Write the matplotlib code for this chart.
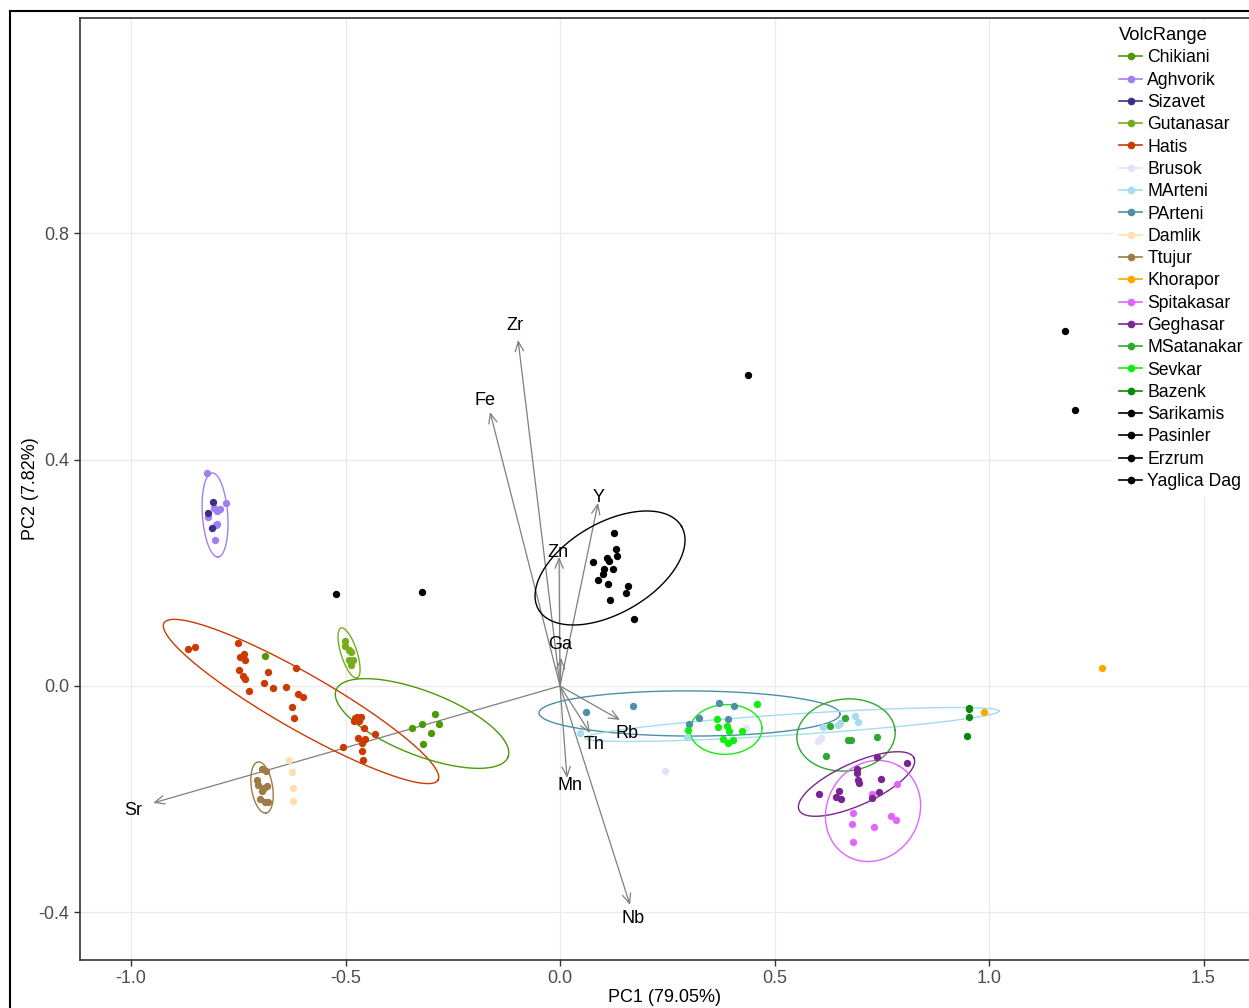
import numpy as np
import matplotlib.pyplot as plt
from matplotlib.lines import Line2D

plt.rcParams["font.family"] = ["Liberation Sans", "DejaVu Sans"]

# PCA scores per volcanic range (PC1, PC2)
groups = ["Chikiani", "Aghvorik", "Sizavet", "Gutanasar", "Hatis", "Brusok",
          "MArteni", "PArteni", "Damlik", "Ttujur", "Khorapor", "Spitakasar",
          "Geghasar", "MSatanakar", "Sevkar", "Bazenk", "Sarikamis",
          "Pasinler", "Erzrum", "Yaglica Dag"]

colors = ["#4C9A06", "#A27FF0", "#3E2E86", "#76AD1C", "#CC3A00", "#E4E2F7",
          "#A6DCEE", "#4C8FA6", "#FFDFB0", "#A07A45", "#FFA500", "#E066FF",
          "#7B2493", "#2EA82E", "#10EE10", "#0A880A", "#000000",
          "#000000", "#000000", "#000000"]

pc1 = {
    "Chikiani": [-0.6877, -0.3457, -0.3210, -0.2921, -0.2814, -0.3007, -0.3187],
    "Aghvorik": [-0.8236, -0.7786, -0.8065, -0.8002, -0.7925, -0.8198, -0.8019,
                 -0.7988, -0.8042],
    "Sizavet": [-0.8082, -0.8212, -0.8105],
    "Gutanasar": [-0.5012, -0.5012, -0.4911, -0.4879, -0.4918, -0.4818, -0.4879],
    "Hatis": [-0.8664, -0.8508, -0.7499, -0.7359, -0.7459, -0.7336, -0.7476,
              -0.7396, -0.7350, -0.6800, -0.6161, -0.7249, -0.6893, -0.6683,
              -0.6394, -0.6100, -0.5984, -0.6254, -0.6194, -0.5065, -0.4779,
              -0.4725, -0.4639, -0.4795, -0.4685, -0.4562, -0.4312, -0.4702,
              -0.4545, -0.4608, -0.4622, -0.4585],
    "Brusok": [0.2448, 0.4336, 0.6021, 0.6077],
    "MArteni": [0.0466, 0.2953, 0.6876, 0.6953, 0.6527, 0.6487, 0.6124],
    "PArteni": [0.0599, 0.1702, 0.3706, 0.4049, 0.3247, 0.3007, 0.3909],
    "Damlik": [-0.6310, -0.6254, -0.6217, -0.6217],
    "Ttujur": [-0.6953, -0.6860, -0.7070, -0.7047, -0.6837, -0.6893, -0.6953,
               -0.6993, -0.6876, -0.6800],
    "Khorapor": [0.9877, 1.2634],
    "Spitakasar": [0.7848, 0.7266, 0.6837, 0.6814, 0.7716, 0.7825, 0.7326, 0.6837],
    "Geghasar": [0.7396, 0.8096, 0.6930, 0.6930, 0.6953, 0.6977, 0.7476, 0.6044,
                 0.6503, 0.6434, 0.6550, 0.7443, 0.7280],
    "MSatanakar": [0.6643, 0.6294, 0.6706, 0.6790, 0.7382, 0.6207],
    "Sevkar": [0.4585, 0.3660, 0.3893, 0.3676, 0.3932, 0.4242, 0.2991, 0.3793,
               0.4026, 0.3909],
    "Bazenk": [0.9541, 0.9541, 0.9541, 0.9494],
    "Sarikamis": [0.1266, 0.1298, 0.1322, 0.0776, 0.1103, 0.1149, 0.1026, 0.0995,
                  0.1235, 0.0886, 0.1112, 0.1592, 0.1538, 0.1166, 0.1725],
    "Pasinler": [-0.5221, -0.3217],
    "Erzrum": [0.4382],
    "Yaglica Dag": [1.1772, 1.2005],
}

pc2 = {
    "Chikiani": [0.0525, -0.0742, -0.0672, -0.0500, -0.0677, -0.0825, -0.1030],
    "Aghvorik": [0.3759, 0.3229, 0.3141, 0.3098, 0.3123, 0.2992, 0.2846, 0.2858,
                 0.2580],
    "Sizavet": [0.3257, 0.3052, 0.2798],
    "Gutanasar": [0.0801, 0.0712, 0.0636, 0.0601, 0.0460, 0.0460, 0.0371],
    "Hatis": [0.0649, 0.0695, 0.0765, 0.0566, 0.0507, 0.0454, 0.0283, 0.0182,
              0.0129, 0.0253, 0.0318, -0.0088, 0.0048, -0.0041, -0.0023, -0.0147,
              -0.0194, -0.0366, -0.0566, -0.1078, -0.0571, -0.0553, -0.0553,
              -0.0619, -0.0613, -0.0737, -0.0843, -0.0914, -0.0942, -0.1013,
              -0.1149, -0.1303],
    "Brusok": [-0.1502, -0.0737, -0.0967, -0.0914],
    "MArteni": [-0.0825, -0.0896, -0.0530, -0.0631, -0.0649, -0.0689, -0.0719],
    "PArteni": [-0.0465, -0.0359, -0.0295, -0.0359, -0.0571, -0.0666, -0.0583],
    "Damlik": [-0.1308, -0.1525, -0.1803, -0.2038],
    "Ttujur": [-0.1472, -0.1497, -0.1661, -0.1755, -0.1767, -0.1808, -0.1856,
               -0.2002, -0.2045, -0.2055],
    "Khorapor": [-0.0465, 0.0318],
    "Spitakasar": [-0.1732, -0.1914, -0.2250, -0.2439, -0.2298, -0.2368, -0.2487,
                   -0.2762],
    "Geghasar": [-0.1250, -0.1366, -0.1467, -0.1543, -0.1661, -0.1720, -0.1644,
                 -0.1903, -0.1861, -0.1956, -0.2002, -0.1868, -0.1985],
    "MSatanakar": [-0.0571, -0.0707, -0.0949, -0.0949, -0.0896, -0.1237],
    "Sevkar": [-0.0323, -0.0589, -0.0702, -0.0725, -0.0790, -0.0790, -0.0778,
               -0.0942, -0.0954, -0.1013],
    "Bazenk": [-0.0384, -0.0412, -0.0553, -0.0878],
    "Sarikamis": [0.2699, 0.2416, 0.2303, 0.2186, 0.2257, 0.2215, 0.2063, 0.1974,
                  0.2068, 0.1873, 0.1803, 0.1773, 0.1649, 0.1520, 0.1179],
    "Pasinler": [0.1626, 0.1661],
    "Erzrum": [0.5497],
    "Yaglica Dag": [0.6274, 0.4878],
}

# group ellipses: major axis end points (PC1, PC2) and minor/major ratio
ellipse_groups = ["Aghvorik", "Hatis", "Gutanasar", "Chikiani", "Ttujur",
                  "Sarikamis", "PArteni", "MArteni", "Sevkar", "MSatanakar",
                  "Geghasar", "Spitakasar"]
ellipse_p1 = [(-0.8112, 0.3765), (-0.9231, 0.1113), (-0.5105, 0.1025),
              (-0.5221, -0.0071), (-0.7040, -0.1343), (-0.0501, 0.1350),
              (-0.0490, -0.0477), (0.0583, -0.0919), (0.3030, -0.0795),
              (0.5524, -0.0954), (0.5571, -0.2192), (0.6690, -0.3005)]
ellipse_p2 = [(-0.7972, 0.2280), (-0.2844, -0.1661), (-0.4732, 0.0141),
              (-0.1212, -0.1255), (-0.6853, -0.2245), (0.2832, 0.2821),
              (0.6527, -0.0495), (1.0233, -0.0442), (0.4709, -0.0742),
              (0.7809, -0.0778), (0.8252, -0.1273), (0.7902, -0.1414)]
ellipse_ratio = [0.30, 0.177, 0.305, 0.347, 0.41, 0.545, 0.15, 0.05, 0.69,
                 0.73, 0.333, 0.885]

# variable loadings
variables = ["Sr", "Zr", "Fe", "Y", "Zn", "Ga", "Th", "Rb", "Mn", "Nb"]
load_x = [-0.9487, -0.0979, -0.1632, 0.0886, -0.0023, 0.0023, 0.0699, 0.1399,
          0.0163, 0.1632]
load_y = [-0.2068, 0.6115, 0.4843, 0.3234, 0.2280, 0.0500, -0.0831, -0.0601,
          -0.1626, -0.3871]
label_x = [-0.9953, -0.1049, -0.1748, 0.0909, -0.0047, 0.0, 0.0793, 0.1562,
           0.0233, 0.1702]
label_y = [-0.2192, 0.6380, 0.5037, 0.3340, 0.2368, 0.0725, -0.1043, -0.0831,
           -0.1767, -0.4118]

W, H = 1249, 1008
fig = plt.figure(figsize=(W / 100, H / 100), dpi=100)
ax = fig.add_axes([80 / W, 48 / H, (W - 80) / W, 942 / H])
ax.set_xlim(-1.119, 1.606)
ax.set_ylim(-0.4843, 1.1806)

ax.set_xticks([-1.0, -0.5, 0.0, 0.5, 1.0, 1.5])
ax.set_yticks([-0.4, 0.0, 0.4, 0.8])
ax.set_xticklabels(["-1.0", "-0.5", "0.0", "0.5", "1.0", "1.5"])
ax.set_yticklabels(["-0.4", "0.0", "0.4", "0.8"])
ax.grid(True, color="#EBEBEB", lw=1.0, zorder=0)
ax.set_axisbelow(True)
ax.tick_params(colors="#333333", labelcolor="#4D4D4D", labelsize=13,
               length=4, width=1)
for side in ["left", "bottom", "top"]:
    ax.spines[side].set_color("#333333")
    ax.spines[side].set_linewidth(1.2)
ax.spines["right"].set_visible(False)
ax.set_xlabel("PC1 (79.05%)", fontsize=13, labelpad=0.8)
ax.set_ylabel("PC2 (7.82%)", fontsize=13, labelpad=-0.5)

col = dict(zip(groups, colors))

# loadings arrows
for vx, vy in zip(load_x, load_y):
    ax.annotate("", xy=(vx, vy), xytext=(0, 0),
                arrowprops=dict(arrowstyle="->,head_length=0.7,head_width=0.3",
                                color="#7F7F7F", lw=0.9,
                                shrinkA=0, shrinkB=0),
                zorder=2)

# points
for g in groups:
    ax.scatter(pc1[g], pc2[g], s=28, color=col[g], linewidths=0, zorder=3)

# ellipses, built in display space so the axes keep their proportions
fig.canvas.draw()
t = np.linspace(0, 2 * np.pi, 200)
to_disp = ax.transData
to_data = ax.transData.inverted()
for g, p1, p2, r in zip(ellipse_groups, ellipse_p1, ellipse_p2, ellipse_ratio):
    d1 = to_disp.transform(p1)
    d2 = to_disp.transform(p2)
    c = (d1 + d2) / 2
    a = np.hypot(*(d2 - d1)) / 2
    u = (d2 - d1) / (2 * a)
    v = np.array([-u[1], u[0]])
    b = a * r
    pts = c + np.outer(a * np.cos(t), u) + np.outer(b * np.sin(t), v)
    dpts = to_data.transform(pts)
    ax.plot(dpts[:, 0], dpts[:, 1], color=col[g], lw=1.0, zorder=2.5)

for name, lx, ly in zip(variables, label_x, label_y):
    ax.text(lx, ly, name, fontsize=13, ha="center", va="center",
            color="black", zorder=4)

handles = [Line2D([0], [0], color=col[g], marker="o", markersize=4.5, lw=1.2)
           for g in groups]
leg = fig.legend(handles, groups, title="VolcRange", loc="upper left",
                 bbox_to_anchor=(1113 / W, 1 - 21 / H), frameon=True,
                 fontsize=12.7, title_fontsize=13.2, handlelength=1.3,
                 handletextpad=0.3, labelspacing=0.30, borderpad=0.35,
                 alignment="left", borderaxespad=0)
leg._legend_handle_box.sep = 5
leg.get_frame().set_facecolor("white")
leg.get_frame().set_edgecolor("white")
leg.get_frame().set_alpha(1.0)
leg.get_frame().set_boxstyle("square", pad=0)

# outer frame
fig.add_artist(Line2D([10 / W, 1], [1 - 11 / H, 1 - 11 / H], color="black",
                      lw=1.5, transform=fig.transFigure))
fig.add_artist(Line2D([10 / W, 10 / W], [0, 1 - 11 / H], color="black",
                      lw=1.5, transform=fig.transFigure))

fig.savefig("out.png", dpi=100, facecolor="white")
